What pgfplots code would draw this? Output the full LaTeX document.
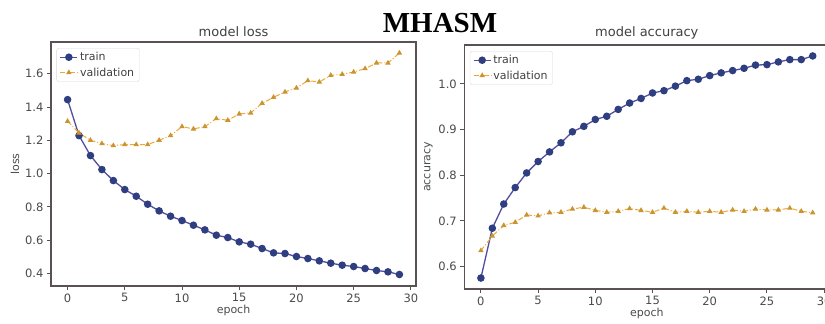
\documentclass[border=0pt]{standalone}
\usepackage{fontspec}
\setmainfont{DejaVu Sans}
\newfontfamily\titlefont{Liberation Serif}
\usepackage{pgfplots}
\pgfplotsset{compat=1.18}
\definecolor{trainline}{HTML}{524E9E}
\definecolor{trainmark}{HTML}{2E3E80}
\definecolor{valline}{HTML}{EFA836}
\definecolor{valmark}{HTML}{C99530}
\definecolor{axgray}{HTML}{5A5252}
\definecolor{txtgray}{HTML}{4A4A4A}
\pgfplotsset{
  common/.style={
    scale only axis, width=365pt, height=244pt,
    xmin=-1.45, xmax=30.45,
    xtick={0,5,...,30},
    axis line style={axgray, line width=1.2pt},
    tick style={axgray, line width=0.9pt},
    tick align=outside, major tick length=4pt,
    xtick pos=bottom, ytick pos=left,
    tick label style={font=\fontsize{11.5}{13}\selectfont, text=txtgray},
    /pgf/number format/assume math mode=true,
    /pgf/number format/fixed, /pgf/number format/precision=1,
    /pgf/number format/fixed zerofill,
    xticklabel style={/pgf/number format/precision=0, /pgf/number format/fixed zerofill=false},
    label style={font=\fontsize{11}{13}\selectfont, text=txtgray},
    title style={font=\fontsize{13}{15}\selectfont, text=black!75, yshift=-4pt},
    xlabel={epoch},
    xlabel style={yshift=4pt},
    ylabel style={yshift=-1pt},
    legend style={font=\fontsize{11}{13}\selectfont, draw=black!15, rounded corners=2pt, text=black!75, at={(0.015,0.975)}, anchor=north west, row sep=1.5pt},
    legend cell align=left,
  },
  trainst/.style={color=trainline, line width=1.3pt, mark=*, mark size=3.1pt, mark options={fill=trainmark, draw=trainmark}},
  valst/.style={color=valline, line width=1pt, dash pattern=on 5pt off 2pt on 1pt off 2pt, mark=triangle*, mark size=2.2pt, mark options={solid, fill=valmark, draw=valmark}},
}
\begin{document}
\begin{tikzpicture}[x=1pt,y=1pt]
\useasboundingbox (0,0) rectangle (825,324);
\node[anchor=base, font=\titlefont\bfseries\fontsize{29}{32}\selectfont] at (440,291) {MHASM};
\begin{axis}[common, at={(51pt,38pt)}, anchor=south west,
  ymin=0.325, ymax=1.79, ytick={0.4,0.6,...,1.61},
  title={model loss}, ylabel={loss}]
\addplot[trainst] coordinates {
(0,1.444)(1,1.228)(2,1.108)(3,1.024)(4,0.958)(5,0.904)(6,0.864)(7,0.816)(8,0.776)(9,0.744)
(10,0.718)(11,0.690)(12,0.662)(13,0.630)(14,0.616)(15,0.590)(16,0.576)(17,0.550)(18,0.524)(19,0.520)
(20,0.502)(21,0.490)(22,0.476)(23,0.462)(24,0.450)(25,0.442)(26,0.430)(27,0.418)(28,0.410)(29,0.394)};
\addlegendentry{train}
\addplot[valst] coordinates {
(0,1.314)(1,1.244)(2,1.200)(3,1.180)(4,1.168)(5,1.174)(6,1.174)(7,1.174)(8,1.200)(9,1.228)
(10,1.282)(11,1.268)(12,1.282)(13,1.330)(14,1.320)(15,1.358)(16,1.364)(17,1.422)(18,1.458)(19,1.490)
(20,1.514)(21,1.558)(22,1.550)(23,1.590)(24,1.596)(25,1.610)(26,1.630)(27,1.664)(28,1.664)(29,1.724)};
\addlegendentry{validation}
\end{axis}
\begin{axis}[common, at={(464.3pt,35pt)}, anchor=south west,
  ymin=0.551, ymax=1.085, ytick={0.6,0.7,...,1.01},
  title={model accuracy}, ylabel={accuracy}]
\addplot[trainst] coordinates {
(0,0.575)(1,0.684)(2,0.737)(3,0.773)(4,0.805)(5,0.830)(6,0.851)(7,0.871)(8,0.895)(9,0.907)
(10,0.922)(11,0.929)(12,0.944)(13,0.958)(14,0.968)(15,0.980)(16,0.985)(17,0.995)(18,1.007)(19,1.010)
(20,1.018)(21,1.024)(22,1.029)(23,1.034)(24,1.041)(25,1.042)(26,1.048)(27,1.053)(28,1.053)(29,1.061)};
\addlegendentry{train}
\addplot[valst] coordinates {
(0,0.635)(1,0.667)(2,0.690)(3,0.697)(4,0.713)(5,0.711)(6,0.718)(7,0.719)(8,0.726)(9,0.730)
(10,0.723)(11,0.719)(12,0.721)(13,0.727)(14,0.723)(15,0.719)(16,0.728)(17,0.719)(18,0.721)(19,0.719)
(20,0.721)(21,0.719)(22,0.724)(23,0.721)(24,0.726)(25,0.724)(26,0.724)(27,0.728)(28,0.721)(29,0.718)};
\addlegendentry{validation}
\end{axis}
\end{tikzpicture}
\end{document}
